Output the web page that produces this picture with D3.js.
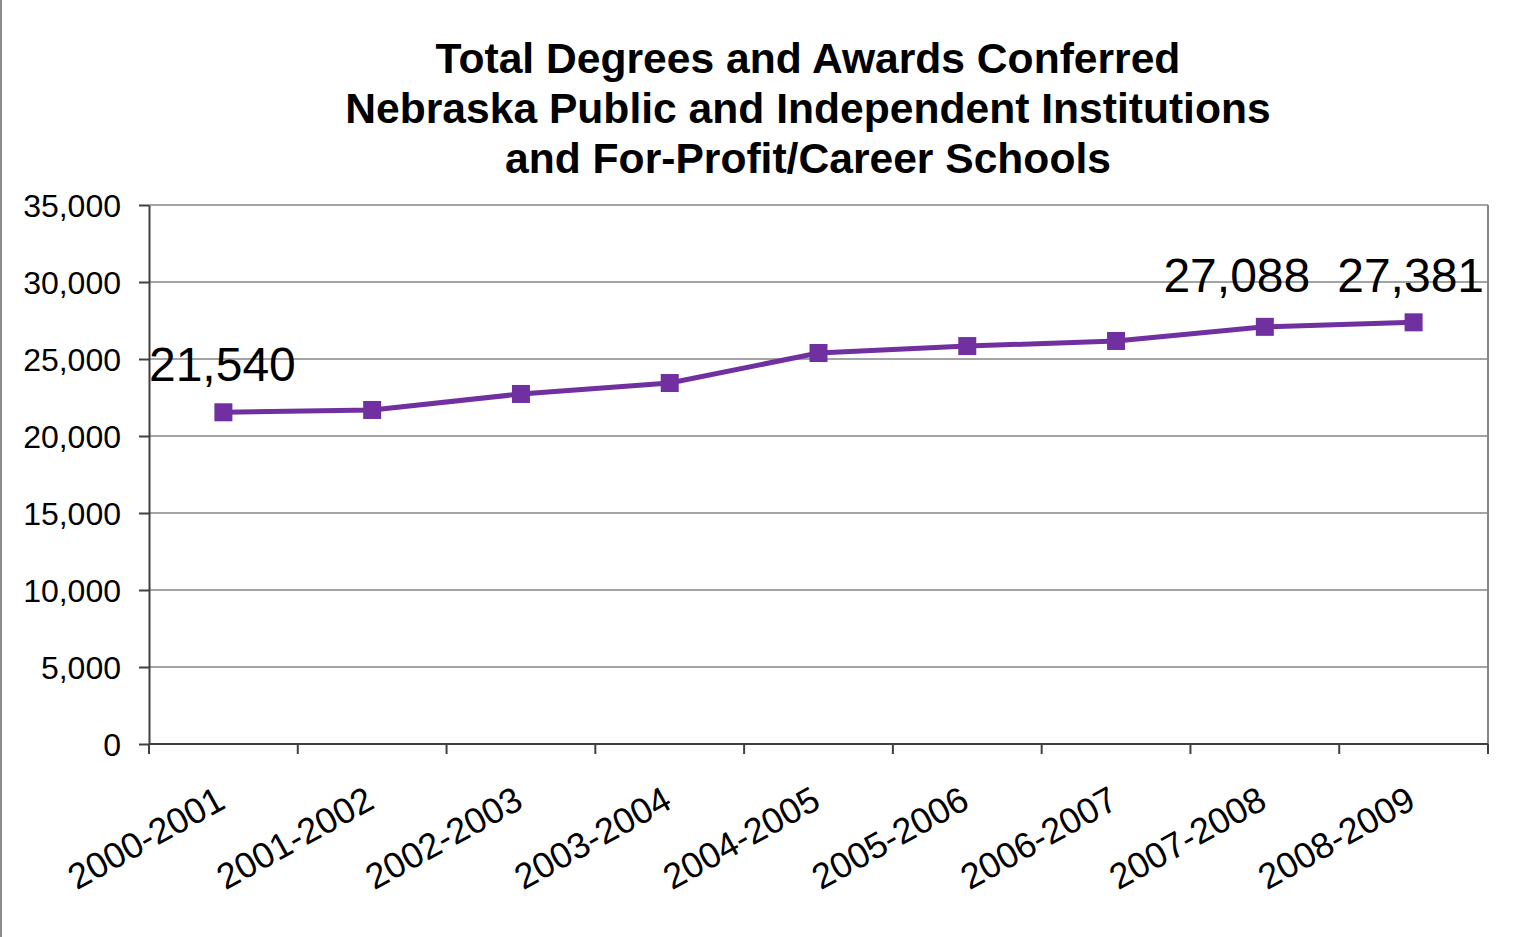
<!DOCTYPE html>
<html>
<head>
<meta charset="utf-8">
<script src="https://cdn.jsdelivr.net/npm/d3@7"></script>
<style>
  body { margin: 0; background: #fff; }
  svg { display: block; font-family: Arial, "Liberation Sans", sans-serif; }
  .grid line { stroke: #868686; stroke-width: 1.5; }
  .axis path, .axis line { stroke: #404040; stroke-width: 2; }
  .axis text { fill: #000; }
</style>
</head>
<body>
<svg width="1533" height="937"></svg>
<script>
// chart values
var years = ['2000-2001', '2001-2002', '2002-2003', '2003-2004', '2004-2005',
             '2005-2006', '2006-2007', '2007-2008', '2008-2009'];
var degrees = [21540, 21690, 22730, 23440, 25390, 25840, 26170, 27088, 27381];
var yTicks = [0, 5000, 10000, 15000, 20000, 25000, 30000, 35000];
var titleLines = ['Total Degrees and Awards Conferred',
                  'Nebraska Public and Independent Institutions',
                  'and For-Profit/Career Schools'];
// which points get a value label
var labelled = ['2000-2001', '2007-2008', '2008-2009'];

var svg = d3.select('svg');
var width = +svg.attr('width');
var height = +svg.attr('height');

var plot = {l: 149, r: 1488, t: 205, b: 744};
var color = '#7030A0';

var xScale = d3.scaleBand().domain(years).range([plot.l, plot.r]);
var yScale = d3.scaleLinear().domain([0, 35000]).range([plot.b, plot.t]);
var xMid = d => xScale(d) + xScale.bandwidth() / 2;

// left edge of the outer chart frame
svg.append('line')
    .attr('x1', 1).attr('x2', 1).attr('y1', 0).attr('y2', height)
    .style('stroke', '#8c8c8c').style('stroke-width', 2);

// title
svg.append('text')
    .attr('x', 808)
    .attr('y', 73)
    .attr('text-anchor', 'middle')
    .style('font-size', '42.6px')
    .style('font-weight', 'bold')
    .selectAll('tspan')
    .data(titleLines)
    .enter()
    .append('tspan')
    .attr('x', 808)
    .attr('dy', (d, i) => i == 0 ? 0 : 50)
    .text(d => d);

// gridlines
svg.append('g').attr('class', 'grid')
    .selectAll('line')
    .data(yTicks.filter(d => d > 0))
    .enter()
    .append('line')
    .attr('x1', plot.l).attr('x2', plot.r)
    .attr('y1', d => yScale(d)).attr('y2', d => yScale(d));

// right border of plot
svg.append('line')
    .attr('x1', plot.r).attr('x2', plot.r).attr('y1', plot.t).attr('y2', plot.b + 10)
    .style('stroke', '#868686').style('stroke-width', 2);

// y axis
var yAxis = d3.axisLeft(yScale).tickValues(yTicks).tickSize(10).tickSizeOuter(0)
    .tickFormat(d3.format(','));
var yG = svg.append('g').attr('class', 'y axis')
    .attr('transform', 'translate(' + plot.l + ',0)')
    .call(yAxis);
yG.selectAll('text').style('font-size', '32px').attr('x', -28).attr('dy', '0.36em');

// x axis with ticks on category boundaries
var bounds = years.map(d => xScale(d)).concat([plot.r]);
var xG = svg.append('g').attr('class', 'x axis');
xG.append('line')
    .attr('x1', plot.l).attr('x2', plot.r).attr('y1', plot.b).attr('y2', plot.b);
xG.selectAll('.tick')
    .data(bounds)
    .enter()
    .append('line')
    .attr('class', 'tick')
    .attr('x1', d => d).attr('x2', d => d)
    .attr('y1', plot.b).attr('y2', plot.b + 10);
xG.selectAll('text')
    .data(years)
    .enter()
    .append('text')
    .attr('text-anchor', 'end')
    .style('font-size', '36px')
    .attr('transform', d => 'translate(' + (xMid(d) + 4) + ',' + (plot.b + 63) + ') rotate(-29)')
    .text(d => d);

// line and markers
var line = d3.line()
    .x((d, i) => xMid(years[i]))
    .y(d => yScale(d));

svg.append('path')
    .datum(degrees)
    .attr('d', line)
    .style('fill', 'none')
    .style('stroke', color)
    .style('stroke-width', 5);

svg.selectAll('.marker')
    .data(degrees)
    .enter()
    .append('rect')
    .attr('class', 'marker')
    .attr('x', (d, i) => xMid(years[i]) - 9)
    .attr('y', d => yScale(d) - 9)
    .attr('width', 18)
    .attr('height', 18)
    .style('fill', color);

// value labels (Excel placed the last two at a common height)
var labelShift = {'2000-2001': [-1, 0], '2007-2008': [-28, 0], '2008-2009': [-3, 0]};
var labelY = {'2000-2001': yScale(degrees[0]) - 31};
svg.selectAll('.value')
    .data(labelled)
    .enter()
    .append('text')
    .attr('class', 'value')
    .attr('text-anchor', 'middle')
    .style('font-size', '48px')
    .attr('x', d => xMid(d) + labelShift[d][0])
    .attr('y', d => labelY[d] !== undefined ? labelY[d] : yScale(30000) + 10)
    .text(d => d3.format(',')(degrees[years.indexOf(d)]));
</script>
</body>
</html>
